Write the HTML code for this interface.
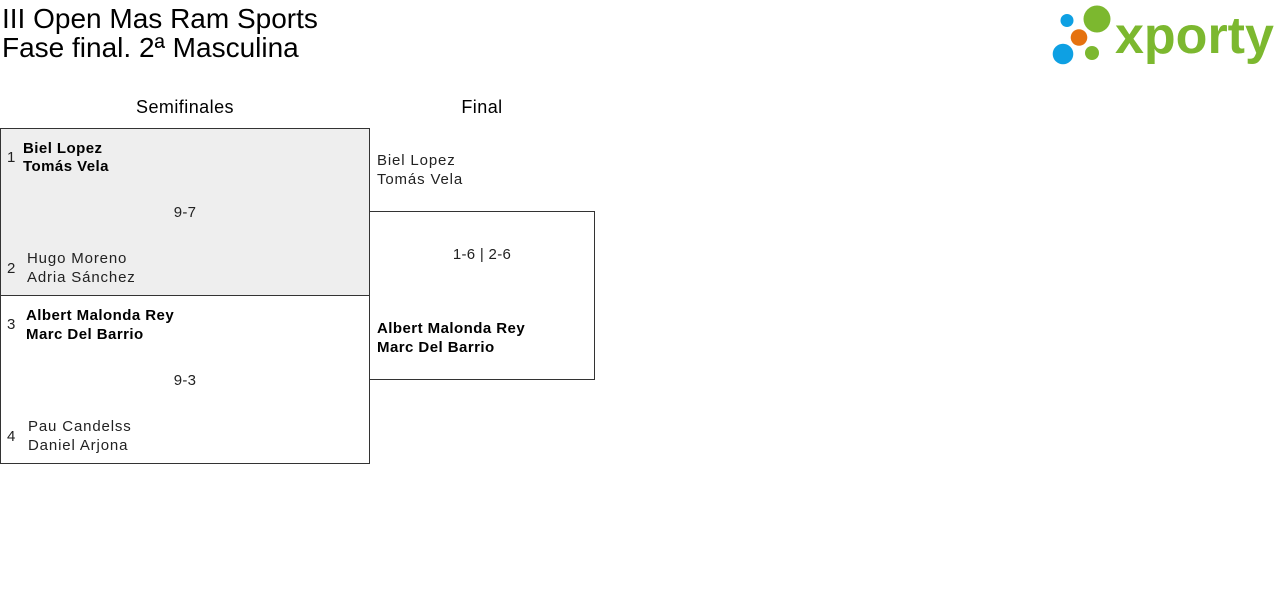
<!DOCTYPE html>
<html>
<head>
<meta charset="utf-8">
<style>
  html,body{margin:0;padding:0;background:#fff;}
  svg{display:block;}
  text{font-family:"Liberation Sans",Arial,sans-serif;}
  .t{font-size:28px;fill:#000;}
  .h{font-size:18px;fill:#000;letter-spacing:0.45px;}
  .b{font-size:15px;font-weight:bold;fill:#000;letter-spacing:0.45px;}
  .n{font-size:15px;fill:#222;letter-spacing:0.85px;}
  .num{font-size:15px;fill:#222;}
  .s{font-size:15px;fill:#222;letter-spacing:0.3px;}
</style>
</head>
<body>
<svg width="1280" height="595" viewBox="0 0 1280 595" xmlns="http://www.w3.org/2000/svg">
  <rect x="0" y="0" width="1280" height="595" fill="#fff"/>
  <!-- Title -->
  <text class="t" x="2" y="28">III Open Mas Ram Sports</text>
  <text class="t" x="2" y="57">Fase final. 2ª Masculina</text>

  <!-- Logo -->
  <circle cx="1067" cy="20.5" r="6.5" fill="#0ea0e3"/>
  <circle cx="1097" cy="19" r="13.5" fill="#7cb82f"/>
  <circle cx="1079" cy="37.5" r="8.3" fill="#e5720f"/>
  <circle cx="1063" cy="54" r="10.3" fill="#0ea0e3"/>
  <circle cx="1092" cy="53" r="7" fill="#7cb82f"/>
  <text x="1115" y="53" style="font-size:52px;font-weight:bold;fill:#7cb82f;">xporty</text>

  <!-- Round headers -->
  <text class="h" x="185" y="113" text-anchor="middle">Semifinales</text>
  <text class="h" x="482" y="113" text-anchor="middle">Final</text>

  <!-- Semifinal boxes -->
  <rect x="0.5" y="128.5" width="369" height="167" fill="#eeeeee" stroke="#333" stroke-width="1"/>
  <rect x="0.5" y="295.5" width="369" height="168" fill="#ffffff" stroke="#333" stroke-width="1"/>

  <!-- Final box -->
  <rect x="369.5" y="211.5" width="225" height="168" fill="none" stroke="#333" stroke-width="1"/>

  <!-- Match 1 -->
  <text class="num" x="7" y="162">1</text>
  <text class="b" x="23" y="153">Biel Lopez</text>
  <text class="b" x="23" y="171">Tomás Vela</text>
  <text class="s" x="185" y="217" text-anchor="middle">9-7</text>
  <text class="num" x="7" y="273">2</text>
  <text class="n" x="27" y="263">Hugo Moreno</text>
  <text class="n" x="27" y="282">Adria Sánchez</text>

  <!-- Match 2 -->
  <text class="num" x="7" y="329">3</text>
  <text class="b" x="26" y="320">Albert Malonda Rey</text>
  <text class="b" x="26" y="339">Marc Del Barrio</text>
  <text class="s" x="185" y="385" text-anchor="middle">9-3</text>
  <text class="num" x="7" y="441">4</text>
  <text class="n" x="28" y="431">Pau Candelss</text>
  <text class="n" x="28" y="450">Daniel Arjona</text>

  <!-- Final -->
  <text class="n" x="377" y="165">Biel Lopez</text>
  <text class="n" x="377" y="184">Tomás Vela</text>
  <text class="s" x="482" y="259" text-anchor="middle">1-6 | 2-6</text>
  <text class="b" x="377" y="333">Albert Malonda Rey</text>
  <text class="b" x="377" y="352">Marc Del Barrio</text>
</svg>
</body>
</html>
